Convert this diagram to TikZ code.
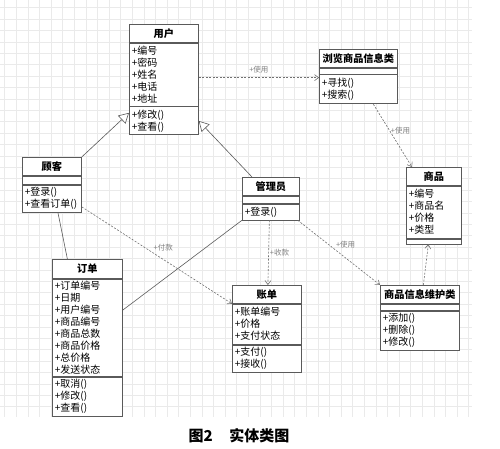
\documentclass[tikz,border=0pt]{standalone}
\usepackage{fontspec}
\setmainfont{Noto Sans CJK SC}
\usepackage{xcolor}
\usetikzlibrary{positioning,arrows.meta}

\definecolor{boxgray}{HTML}{5A5A5A}
\definecolor{linegray}{HTML}{707070}
\definecolor{gridgray}{HTML}{EAEAEA}

\begin{document}
\begin{tikzpicture}[x=1pt,y=-1pt,
       ctitle/.style={
           draw=boxgray,
           fill=white,
           line width=0.75pt,
           align=center,
           inner xsep=2.5pt,
           inner ysep=0pt,
           minimum height=18pt,
           anchor=north west,
           font=\bfseries\fontsize{10.2}{12}\selectfont
       },
       cpart/.style={
           draw=boxgray,
           fill=white,
           line width=0.75pt,
           align=left,
           inner xsep=2.5pt,
           inner ysep=0pt,
           font=\fontsize{10}{12}\selectfont
       },
       dep/.style={
           draw=linegray,
           line width=0.6pt,
           dash pattern=on 2pt off 1.5pt,
           -{Straight Barb[length=4pt,width=6pt]}
       },
       gen/.style={
           draw=boxgray,
           line width=0.6pt,
           -{Triangle[open,length=10pt,width=11pt,fill=white]}
       },
       assoc/.style={draw=boxgray, line width=0.6pt},
       lbl/.style={
           text=gray,
           inner sep=1pt,
           font=\fontsize{7.5}{9}\selectfont
       }
   ]
   \useasboundingbox (0,0) rectangle (500,449);

   % Grid
   \foreach \gx in {0,...,40}
       \draw[gridgray, line width=0.5pt] (4.7+11.6*\gx,0) -- (4.7+11.6*\gx,417);
   \foreach \gy in {0,...,35}
       \draw[gridgray, line width=0.5pt] (0,7.7+11.4*\gy) -- (472,7.7+11.4*\gy);

   % 用户
   \node[ctitle, text width=64pt] (yonghu) at (129,24) {用户};
   \node[cpart, text width=64pt, minimum height=63pt, below=0pt of yonghu] (yonghuA)
       {+编号\\+密码\\+姓名\\+电话\\+地址};
   \node[cpart, text width=64pt, minimum height=28pt, below=0pt of yonghuA] (yonghuM)
       {+修改()\\+查看()};

   % 浏览商品信息类
   \node[ctitle, text width=73pt] (liulan) at (319,49) {浏览商品信息类};
   \node[cpart, text width=73pt, minimum height=6pt, below=0pt of liulan] (liulanA) {};
   \node[cpart, text width=73pt, minimum height=29pt, below=0pt of liulanA] (liulanM)
       {+寻找()\\+搜索()};

   % 顾客
   \node[ctitle, text width=54pt] (guke) at (22,157) {顾客};
   \node[cpart, text width=54pt, minimum height=8pt, below=0pt of guke] (gukeA) {};
   \node[cpart, text width=54pt, minimum height=27pt, below=0pt of gukeA] (gukeM)
       {+登录()\\+查看订单()};

   % 管理员
   \node[ctitle, text width=52pt] (guanli) at (242,177) {管理员};
   \node[cpart, text width=52pt, minimum height=7pt, below=0pt of guanli] (guanliA) {};
   \node[cpart, text width=52pt, minimum height=16pt, below=0pt of guanliA] (guanliM)
       {+登录()};

   % 商品
   \node[ctitle, text width=50pt] (shangpin) at (406,167) {商品};
   \node[cpart, text width=50pt, minimum height=52pt, below=0pt of shangpin] (shangpinA)
       {+编号\\+商品名\\+价格\\+类型};
   \node[cpart, text width=50pt, minimum height=5pt, below=0pt of shangpinA] (shangpinM) {};

   % 订单
   \node[ctitle, text width=65pt, minimum height=19pt] (dingdan) at (52,259) {订单};
   \node[cpart, text width=65pt, minimum height=97pt, below=0pt of dingdan] (dingdanA)
       {+订单编号\\+日期\\+用户编号\\+商品编号\\+商品总数\\+商品价格\\+总价格\\+发送状态};
   \node[cpart, text width=65pt, minimum height=39pt, below=0pt of dingdanA] (dingdanM)
       {+取消()\\+修改()\\+查看()};

   % 账单
   \node[ctitle, text width=64pt] (zhangdan) at (232,285) {账单};
   \node[cpart, text width=64pt, minimum height=40pt, below=0pt of zhangdan] (zhangdanA)
       {+账单编号\\+价格\\+支付状态};
   \node[cpart, text width=64pt, minimum height=27pt, below=0pt of zhangdanA] (zhangdanM)
       {+支付()\\+接收()};

   % 商品信息维护类
   \node[ctitle, text width=74pt] (weihu) at (380,285) {商品信息维护类};
   \node[cpart, text width=74pt, minimum height=6pt, below=0pt of weihu] (weihuA) {};
   \node[cpart, text width=74pt, minimum height=39pt, below=0pt of weihuA] (weihuM)
       {+添加()\\+删除()\\+修改()};

   % Generalization
   \draw[gen] (guke.north east) -- ([yshift=8pt]yonghuM.west);
   \draw[gen] ([xshift=10pt]guanli.north west) -- (yonghuM.east);

   % Associations
   \draw[assoc] ([xshift=6pt]gukeM.south) -- ([xshift=-20pt]dingdan.north);
   \draw[assoc] (guanliM.south west) -- ([yshift=17.5pt]dingdanA.east);

   % Dependencies
   \draw[dep] ([yshift=-3pt]yonghuA.east) -- node[lbl, above=3pt] {+使用}
       ([yshift=-3pt]yonghuA.east -| liulanM.west);
   \draw[dep] ([xshift=15pt]liulanM.south) -- node[lbl, pos=0.42, anchor=west] {+使用}
       ([xshift=6pt]shangpin.north west);
   \draw[dep] ([xshift=3.5pt]weihu.north) -- ([xshift=-5.5pt]shangpinM.south);
   \draw[dep] ([xshift=-1.5pt]guanliM.south) -- node[lbl, pos=0.5, anchor=west] {+收款}
       ([xshift=1pt]zhangdan.north);
   \draw[dep] ([xshift=-2pt]guanliM.south east) -- node[lbl, pos=0.45, anchor=south west] {+使用}
       (weihu.north west);
   \draw[dep] ([yshift=-8.5pt]gukeM.east) -- node[lbl, pos=0.47, anchor=south west] {+付款}
       (zhangdan.south west);

   % Caption
   \node[font=\bfseries\fontsize{15}{17}\selectfont] (caption) at (239,436)
       {图2\hspace{1.1em}实体类图};

\end{tikzpicture}
\end{document}
